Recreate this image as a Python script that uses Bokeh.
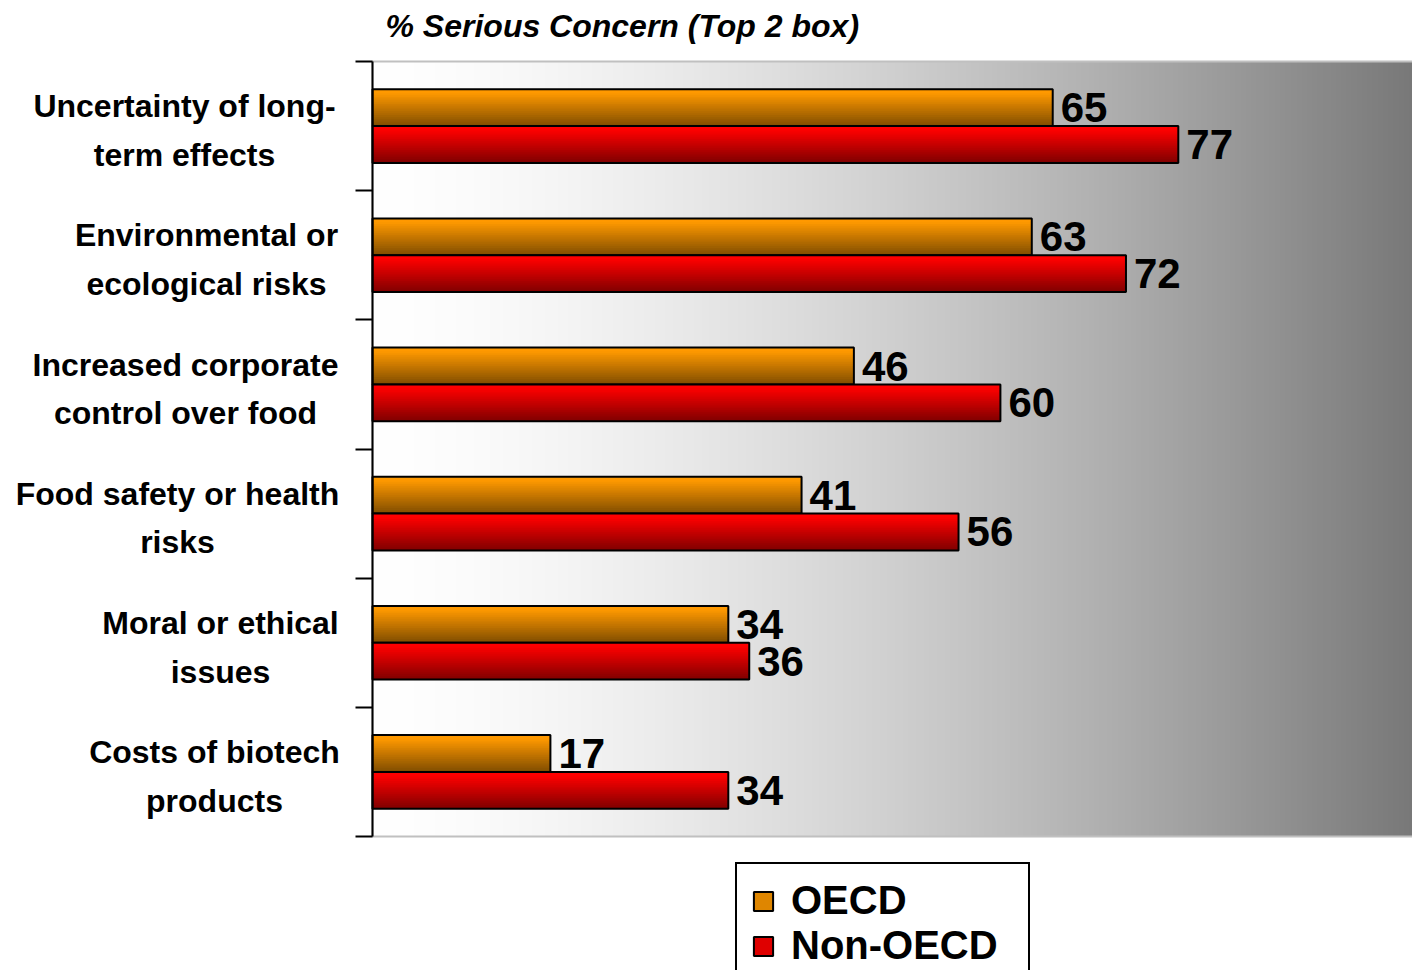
import numpy as np
from bokeh.plotting import figure
from bokeh.models import Range1d, FixedTicker, Label, Legend, LegendItem, ColumnDataSource
from bokeh.embed import file_html
from bokeh.resources import INLINE
from bokeh.core.properties import value

# ---------------- data ----------------
categories = [
    "Uncertainty of long-\nterm effects",
    "Environmental or\necological risks",
    "Increased corporate\ncontrol over food",
    "Food safety or health\nrisks",
    "Moral or ethical\nissues",
    "Costs of biotech\nproducts",
]
oecd = [65, 63, 46, 41, 34, 17]
non_oecd = [77, 72, 60, 56, 36, 34]
series_names = ["OECD", "Non-OECD"]
title_text = "% Serious Concern (Top 2 box)"

# ---------------- layout / style ----------------
FONT = "Liberation Sans"
W, H = 1412, 970
AX_X = 372            # screen x of value 0
PX_X = 10.465         # px per percentage point
TOP, BOT = 61, 836    # screen y of plot area top / bottom
n = len(categories)
PX_Y = (BOT - TOP) / n
label_cx = [184, 206, 185, 177, 220, 214]   # screen x of label block centres

p = figure(width=W, height=H, output_backend="svg", toolbar_location=None,
           x_range=Range1d(-AX_X / PX_X, (W - AX_X) / PX_X),
           y_range=Range1d(-(H - BOT) / PX_Y, n + TOP / PX_Y),
           x_axis_location=None, min_border=0)
p.grid.visible = False
p.background_fill_color = "white"
p.border_fill_color = "white"
p.outline_line_color = None

# background gradient (white -> grey) over the plot area
ncol = 400
f = np.linspace(0, 1, ncol)
g = np.clip(255 - 136 * f ** 1.5, 0, 255).astype(np.uint8)
img = np.zeros((1, ncol), dtype=np.uint32)
view = img.view(dtype=np.uint8).reshape((1, ncol, 4))
view[0, :, 0] = g
view[0, :, 1] = g
view[0, :, 2] = g
view[0, :, 3] = 255
p.image_rgba(image=[img], x=0, y=0, dw=100, dh=n, level="image")
p.quad(left=0, right=100, bottom=0, top=n, fill_color=None,
       line_color="#C0C0C0", line_width=2)

ycat = [n - i - 0.5 for i in range(n)]
bar_h = 0.285
N = 20

def shade(base, t):
    s = min(1.0, max(0.0, (t - 0.1) / 0.9))
    fac = 1 - 0.5 * s
    return "#%02x%02x%02x" % tuple(int(round(c * fac)) for c in base)

bases = [(255, 153, 0), (255, 0, 0)]
offsets = [bar_h / 2, -bar_h / 2]
legend_parts = []
for vals, base, off in zip([oecd, non_oecd], bases, offsets):
    centers = [y + off for y in ycat]
    mid_r = None
    for k in range(N):
        t = (k + 0.5) / N
        top_k = bar_h / 2 - k * bar_h / N          # strip top, relative to bar centre
        hk = top_k + bar_h / 2                      # strip runs down to bar bottom
        r = p.hbar(y=[c + top_k - hk / 2 for c in centers], right=vals, left=0,
                   height=hk, fill_color=shade(base, t), line_color=None)
        if k == N // 3:
            mid_r = r
    outl = p.hbar(y=centers, right=vals, left=0, height=bar_h,
                  fill_color=None, line_color="black", line_width=2)
    legend_parts.append([mid_r, outl])
    src = ColumnDataSource(dict(x=vals, y=centers, t=[str(v) for v in vals]))
    p.text(x="x", y="y", text="t", source=src, x_offset=8, y_offset=0,
           text_font=value(FONT), text_font_style="bold", text_font_size="42px",
           text_baseline="middle", text_align="left", text_color="black")

# y axis at value 0, ticks at category boundaries
p.yaxis.fixed_location = 0
p.yaxis.bounds = (0, n)
p.yaxis.ticker = FixedTicker(ticks=list(range(n + 1)))
p.yaxis.major_label_overrides = {i: "" for i in range(n + 1)}
p.yaxis.major_label_text_font_size = "1px"
p.yaxis.major_tick_out = 17
p.yaxis.major_tick_in = 0
p.yaxis.minor_tick_out = 0
p.yaxis.minor_tick_in = 0
p.yaxis.axis_line_width = 2
p.yaxis.major_tick_line_width = 2
p.yaxis.axis_line_color = "black"
p.yaxis.major_tick_line_color = "black"

# category labels
lsrc = ColumnDataSource(dict(x=[(cx - AX_X) / PX_X for cx in label_cx],
                             y=[y - 0.035 for y in ycat], t=categories))
p.text(x="x", y="y", text="t", source=lsrc, text_align="center", text_baseline="middle",
       text_font=value(FONT), text_font_style="bold", text_font_size="32px",
       text_line_height=1.35, text_color="black")

# title
p.add_layout(Label(x=(385 - AX_X) / PX_X, y=n + 36 / PX_Y, text=title_text,
                   text_align="left", text_baseline="alphabetic",
                   text_font=FONT, text_font_style="bold italic", text_font_size="32px",
                   text_color="black"))

legend = Legend(items=[LegendItem(label=nm, renderers=rs) for nm, rs in zip(series_names, legend_parts)],
                location=(735, -14), orientation="vertical",
                label_text_font=FONT, label_text_font_style="bold", label_text_font_size="40px",
                label_text_color="black", label_width=223,
                glyph_width=24, glyph_height=24, label_standoff=16, padding=14, spacing=0,
                margin=0, border_line_color="black", border_line_width=2, border_line_alpha=1.0,
                background_fill_color="white", background_fill_alpha=1.0)
p.add_layout(legend, "center")

open("out.html", "w").write(file_html(p, INLINE))
